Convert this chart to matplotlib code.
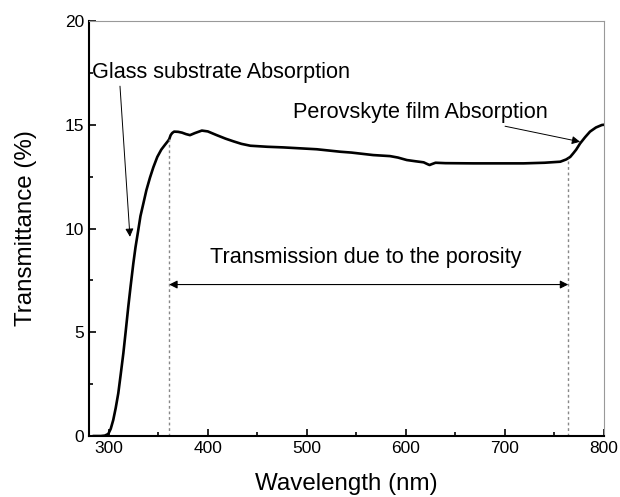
import matplotlib
matplotlib.use("Agg")
import matplotlib.pyplot as plt
from matplotlib.ticker import MultipleLocator
import numpy as np

plt.rcParams['font.family'] = ['Liberation Sans', 'DejaVu Sans']

# Transmittance spectrum of the perovskite film
wavelength = [285, 292, 296, 299.5, 302, 304.5, 307, 309.6, 312, 314.7, 317, 319.7, 322,
              324.8, 327, 329.8, 332, 334.9, 338, 341.6, 345, 349, 353, 357, 359.5, 361,
              362.5, 364, 366, 370, 374, 378, 382, 387, 394, 400, 409, 418, 426, 434,
              443, 460, 476, 510, 534, 545, 567, 584, 592, 601, 610, 618, 622, 624,
              626, 630, 640, 668, 719, 740, 756, 762, 766, 769, 772, 776, 781, 786,
              792, 798, 800]
transmittance = [0.0, 0.0, 0.02, 0.1, 0.35, 0.77, 1.35, 2.06, 2.95, 3.98, 5.0, 6.23, 7.2,
                 8.32, 9.1, 9.93, 10.6, 11.2, 11.85, 12.45, 12.95, 13.45, 13.8, 14.05, 14.2, 14.3,
                 14.5, 14.6, 14.67, 14.66, 14.62, 14.55, 14.5, 14.6, 14.72, 14.68, 14.5, 14.33, 14.2, 14.08,
                 13.99, 13.94, 13.91, 13.82, 13.7, 13.66, 13.54, 13.49, 13.42, 13.3, 13.24, 13.19, 13.1, 13.06,
                 13.1, 13.17, 13.15, 13.14, 13.14, 13.17, 13.22, 13.33, 13.45, 13.62, 13.8, 14.1, 14.4, 14.67,
                 14.87, 14.99, 15.0]

pore_start = 361
pore_end = 764
arrow_level = 7.3

fig = plt.figure(figsize=(6.2, 4.97), dpi=100)
ax = fig.add_axes([0.1435, 0.1227, 0.8305, 0.835])

ax.plot(wavelength, transmittance, color='black', lw=1.9, solid_joinstyle='round')

# Boundaries of the porosity window
for xv in (pore_start, pore_end):
    yv = float(np.interp(xv, wavelength, transmittance))
    ax.plot([xv, xv], [0, yv], color='#888888', lw=1.0, ls=(0, (2, 2)))

ax.annotate('', xy=(pore_start, arrow_level), xytext=(pore_end, arrow_level),
            arrowprops=dict(arrowstyle='<|-|>', color='black', lw=0.8,
                            mutation_scale=12, shrinkA=0, shrinkB=0))
ax.text(560, 8.6, 'Transmission due to the porosity', fontsize=15.6,
        ha='center', va='center')

ax.annotate('Glass substrate Absorption', xy=(321.4, 9.6), xytext=(283, 17.5),
            fontsize=15.6, ha='left', va='center',
            arrowprops=dict(arrowstyle='-|>', color='black', lw=0.7,
                            mutation_scale=12, shrinkA=0, shrinkB=0,
                            relpos=(0.108, 0.0)))
ax.annotate('Perovskyte film Absorption', xy=(776, 14.18), xytext=(486, 15.57),
            fontsize=15.6, ha='left', va='center',
            arrowprops=dict(arrowstyle='-|>', color='black', lw=0.7,
                            mutation_scale=12, shrinkA=0, shrinkB=0,
                            relpos=(0.78, 0.0)))

ax.set_xlim(280, 800)
ax.set_ylim(0, 20)
ax.xaxis.set_major_locator(MultipleLocator(100))
ax.xaxis.set_minor_locator(MultipleLocator(50))
ax.yaxis.set_major_locator(MultipleLocator(5))
ax.yaxis.set_minor_locator(MultipleLocator(2.5))
ax.tick_params(which='both', direction='in', top=False, right=False,
               labelsize=12.5, width=1.2)
ax.tick_params(which='major', length=5)
ax.tick_params(which='minor', length=3)

for side in ('left', 'bottom'):
    ax.spines[side].set_linewidth(1.5)
    ax.spines[side].set_color('black')
for side in ('top', 'right'):
    ax.spines[side].set_linewidth(0.8)
    ax.spines[side].set_color('#999999')

ax.set_xlabel('Wavelength (nm)', fontsize=17.4, labelpad=12)
ax.set_ylabel('Transmittance (%)', fontsize=17.4, labelpad=20)

fig.savefig('out.png', dpi=100)
